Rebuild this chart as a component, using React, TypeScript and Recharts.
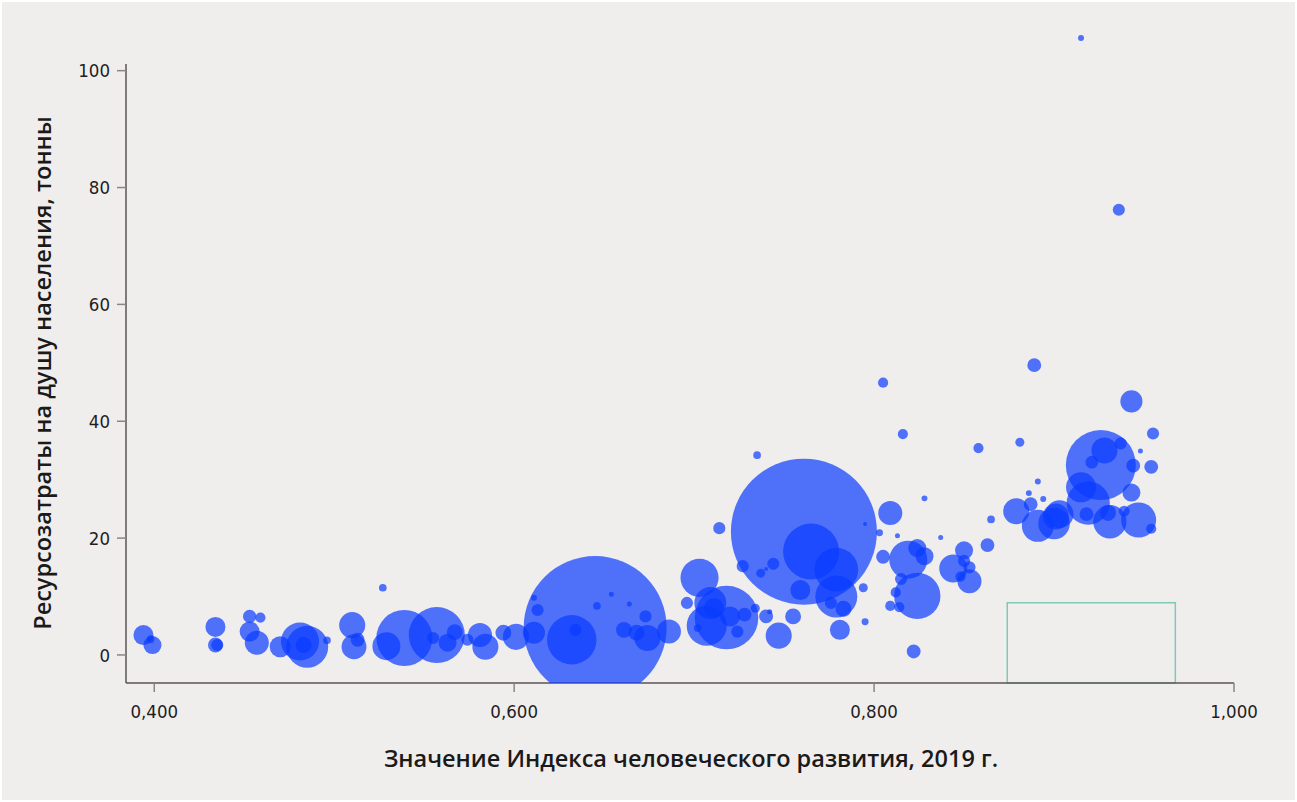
import {
  ScatterChart,
  Scatter,
  XAxis,
  YAxis,
  ZAxis,
  ReferenceArea,
  ReferenceLine
} from 'recharts';

// HDI value (x), material footprint per capita in tonnes (y), population in millions (bubble size)
const hdi = [
  0.394, 0.398, 0.399, 0.434, 0.434, 0.435, 0.453, 0.459, 0.453, 0.457,
  0.470, 0.481, 0.485, 0.483, 0.496, 0.527, 0.510, 0.511, 0.513, 0.529,
  0.539, 0.557, 0.555, 0.563, 0.567, 0.574, 0.581, 0.584, 0.594, 0.601,
  0.611, 0.611, 0.613, 0.645, 0.632, 0.634, 0.646, 0.654, 0.664, 0.673,
  0.661, 0.668, 0.674, 0.686, 0.703, 0.696, 0.709, 0.718, 0.707, 0.711,
  0.720, 0.724, 0.728, 0.734, 0.702, 0.740, 0.742, 0.755, 0.747, 0.735,
  0.714, 0.727, 0.737, 0.744, 0.740, 0.761, 0.765, 0.779, 0.779, 0.759,
  0.783, 0.776, 0.781, 0.795, 0.794, 0.809, 0.803, 0.795, 0.805, 0.813,
  0.828, 0.837, 0.819, 0.824, 0.828, 0.815, 0.824, 0.812, 0.809, 0.814,
  0.822, 0.844, 0.850, 0.850, 0.853, 0.853, 0.848, 0.863, 0.865, 0.879,
  0.891, 0.886, 0.894, 0.887, 0.891, 0.901, 0.926, 0.928, 0.937, 0.921,
  0.944, 0.954, 0.948, 0.955, 0.943, 0.915, 0.919, 0.918, 0.943, 0.930,
  0.931, 0.939, 0.947, 0.954, 0.903, 0.900, 0.881, 0.915, 0.936, 0.889,
  0.805, 0.816, 0.858
];

const footprint = [
  3.4, 2.7, 1.7, 4.8, 1.7, 1.7, 6.6, 6.4, 4.0, 2.1,
  1.4, 2.3, 1.4, 1.7, 2.5, 11.5, 5.1, 1.4, 2.6, 1.5,
  2.9, 3.4, 2.9, 2.1, 3.9, 2.6, 3.4, 1.4, 3.8, 3.1,
  3.8, 9.8, 7.7, 4.7, 2.6, 4.3, 8.4, 10.4, 8.7, 6.6,
  4.3, 3.8, 2.9, 4.0, 13.2, 8.9, 8.9, 6.4, 5.0, 8.0,
  6.6, 4.0, 6.9, 8.0, 4.6, 6.6, 7.4, 6.6, 3.3, 34.2,
  21.7, 15.2, 14.0, 15.6, 14.7, 21.1, 17.7, 14.6, 10.0, 11.1,
  7.9, 8.9, 4.3, 5.7, 11.5, 24.3, 20.9, 22.4, 16.8, 20.4,
  26.8, 20.1, 16.3, 18.3, 16.9, 13.0, 10.1, 10.7, 8.4, 8.2,
  0.6, 14.8, 17.9, 16.1, 15.0, 12.6, 13.4, 18.8, 23.2, 24.6,
  29.7, 27.7, 26.7, 25.8, 22.1, 23.7, 32.5, 35.0, 36.2, 33.0,
  32.4, 32.2, 34.9, 37.9, 43.4, 28.7, 26.0, 24.1, 27.8, 24.3,
  22.8, 24.6, 23.1, 21.6, 24.1, 22.5, 36.4, 105.6, 76.2, 49.6,
  46.6, 37.8, 35.4
];

const population = [
  27, 4, 22, 27, 15, 10, 12, 7, 27, 39,
  30, 98, 119, 17, 4, 4, 46, 42, 13, 53,
  212, 212, 10, 22, 17, 10, 39, 46, 17, 46,
  33, 2.4, 10, 1380, 165, 10, 4, 1.7, 1.7, 10,
  17, 17, 46, 39, 98, 10, 69, 273, 108, 27,
  27, 10, 13, 5.5, 4, 13, 1.7, 17, 46, 4,
  10, 10, 5.5, 10, 1.1, 1439, 212, 129, 119, 27,
  17, 10, 27, 3.3, 5.5, 39, 3.3, 1.1, 13, 1.7,
  2.4, 1.7, 98, 22, 22, 10, 145, 7, 7, 7,
  13, 53, 22, 10, 10, 39, 7, 13, 4, 46,
  2.4, 2.4, 2.4, 13, 69, 46, 331, 46, 10, 11,
  13, 13, 1.7, 10, 33, 61, 126, 13, 22, 17,
  75, 8, 83, 7, 53, 67, 5.5, 2.4, 10, 13,
  7, 7, 7
];

const xTicks = [0.4, 0.6, 0.8, 1.0];
const yTicks = [0, 20, 40, 60, 80, 100];

const X_MIN = 0.3843;
const X_MAX = 1.0;
const Y_MIN = -4.8;
const Y_MAX = 106.5;
const Y_AXIS_TOP = 101.15;

const data = hdi.map((x, i) => ({ x, y: footprint[i], z: population[i] }));

const tickFont = "'Liberation Sans Narrow', 'DejaVu Sans Condensed', 'Roboto', sans-serif";
const titleFont = "'Open Sans', 'Noto Sans', sans-serif";

const formatHdi = (v: number) => v.toFixed(3).replace('.', ',');

export default function App() {
  return (
    <div
      style={{
        position: 'fixed',
        left: 0,
        top: 0,
        width: 1297,
        height: 802,
        background: '#ffffff'
      }}
    >
      <div
        style={{
          position: 'absolute',
          left: 2,
          top: 2,
          width: 1293,
          height: 798,
          background: '#f0eded'
        }}
      />
      <div style={{ position: 'absolute', left: 0, top: 0 }}>
        <ScatterChart
          width={1297}
          height={802}
          margin={{ top: 32.7, right: 63, bottom: 19, left: 66 }}
        >
          <XAxis
            type="number"
            dataKey="x"
            domain={[X_MIN, X_MAX]}
            ticks={xTicks}
            tickFormatter={formatHdi}
            allowDataOverflow
            height={100}
            tickSize={9}
            tickMargin={13}
            axisLine={{ stroke: '#5a5555', strokeWidth: 1.5 }}
            tickLine={{ stroke: '#8a8585', strokeWidth: 1.5 }}
            tick={{ fill: '#1e1e1e', fontSize: 18.5, fontFamily: tickFont }}
            label={() => (
              <text
                x={691}
                y={767}
                textAnchor="middle"
                fill="#1a1a1a"
                fontSize={23.5}
                fontWeight={600}
                fontFamily={titleFont}
              >
                Значение Индекса человеческого развития, 2019 г.
              </text>
            )}
          />
          <YAxis
            type="number"
            dataKey="y"
            domain={[Y_MIN, Y_MAX]}
            ticks={yTicks}
            allowDataOverflow
            width={60}
            tickSize={9}
            tickMargin={7}
            axisLine={false}
            tickLine={{ stroke: '#8a8585', strokeWidth: 1.5 }}
            tick={{ fill: '#1e1e1e', fontSize: 18.5, fontFamily: tickFont }}
            label={() => (
              <text
                x={51}
                y={373}
                transform="rotate(-90 51 373)"
                textAnchor="middle"
                fill="#1a1a1a"
                fontSize={23.5}
                fontWeight={600}
                fontFamily={titleFont}
              >
                Ресурсозатраты на душу населения, тонны
              </text>
            )}
          />
          <ZAxis type="number" dataKey="z" domain={[0, 1439]} range={[0, Math.PI * 73 * 73]} />
          <ReferenceLine
            segment={[
              { x: X_MIN, y: Y_MIN },
              { x: X_MIN, y: Y_AXIS_TOP }
            ]}
            stroke="#5a5555"
            strokeWidth={1.5}
            ifOverflow="visible"
          />
          <Scatter
            data={data}
            fill="#0a3cff"
            fillOpacity={0.7}
            isAnimationActive={false}
          />
          <ReferenceArea
            x1={0.874}
            x2={0.9674}
            y1={Y_MIN}
            y2={8.95}
            fill="none"
            stroke="#80c9b9"
            strokeWidth={1.5}
            ifOverflow="visible"
          />
        </ScatterChart>
      </div>
    </div>
  );
}
